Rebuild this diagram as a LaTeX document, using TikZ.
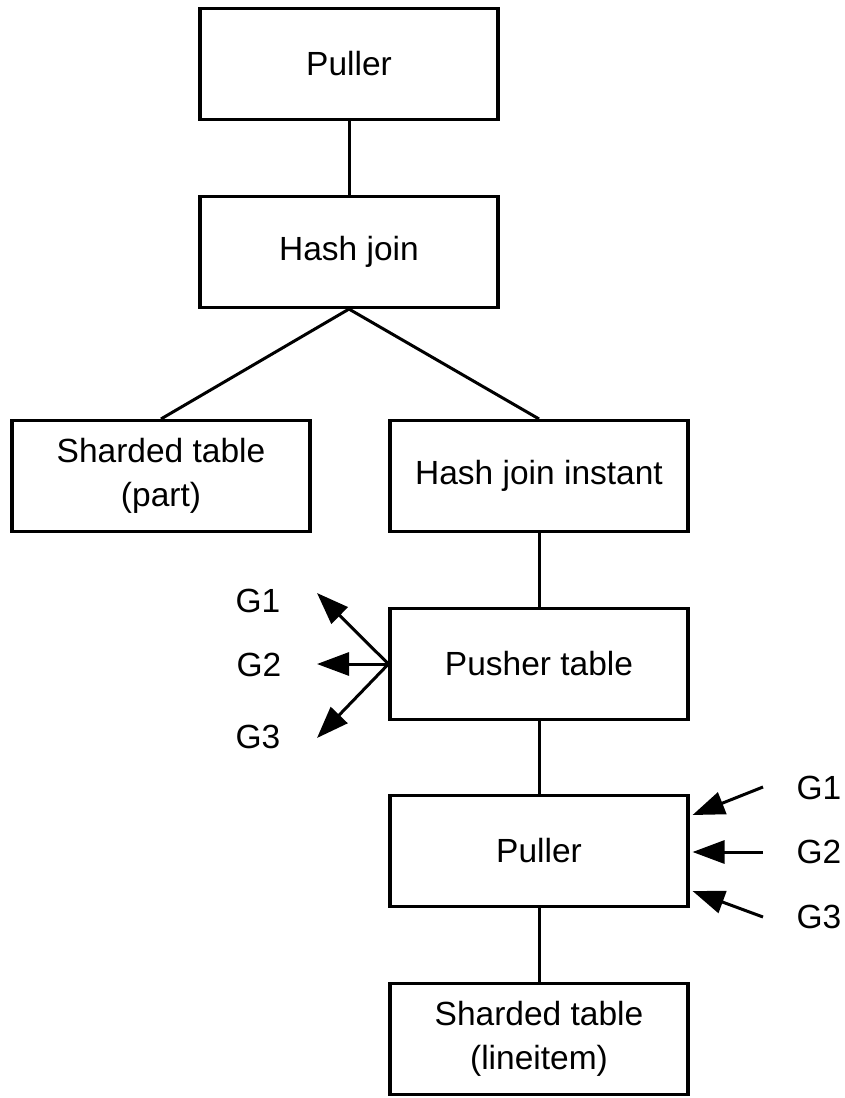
\documentclass[tikz,border=0pt]{standalone}
\usepackage{fontspec}
\setmainfont{Liberation Sans}
\usetikzlibrary{arrows.meta,calc}
\begin{document}
\begin{tikzpicture}[x=1pt,y=-1pt,
  box/.style={draw,line width=3.1pt,rectangle,minimum width=298pt,minimum height=111pt,inner sep=0pt,align=center,font=\fontsize{33.5}{44}\selectfont},
  conn/.style={line width=3pt},
  arr/.style={line width=3pt,-{Triangle[length=32pt,width=23pt]}},
  lab/.style={font=\fontsize{33.5}{40}\selectfont,inner sep=0pt}]
\useasboundingbox (0,0) rectangle (844,1098);
\node[box] (puller1) at (349,64) {Puller};
\node[box] (hj) at (349,252) {Hash join};
\node[box] (stp) at (161,476) {Sharded table\\(part)};
\node[box] (hji) at (539,476) {Hash join instant};
\node[box] (pusher) at (539,664) {Pusher table};
\node[box] (puller2) at (539,851) {Puller};
\node[box] (stl) at (539,1039) {Sharded table\\(lineitem)};
\draw[conn] (puller1.south) -- (hj.north);
\draw[conn] (hj.south) -- (stp.north);
\draw[conn] (hj.south) -- (hji.north);
\draw[conn] (hji.south) -- (pusher.north);
\draw[conn] (pusher.south) -- (puller2.north);
\draw[conn] (puller2.south) -- (stl.north);
% pusher outputs
\coordinate (o1) at (317,593);
\coordinate (o2) at (317,664);
\coordinate (o3) at (317,738);
\draw[arr] (pusher.west) -- (o1);
\draw[arr] (pusher.west) -- (o2);
\draw[arr] (pusher.west) -- (o3);
\node[lab] (lg1) at (258,601) {G1};
\node[lab] (lg2) at (259,665) {G2};
\node[lab] (lg3) at (258,737) {G3};
% puller inputs
\coordinate (i1) at (763,787);
\coordinate (i2) at (763,852);
\coordinate (i3) at (763,917);
\draw[arr] (i1) -- ($(puller2.east)+(3,-36)$);
\draw[arr] (i2) -- ($(puller2.east)+(3,1)$);
\draw[arr] (i3) -- ($(puller2.east)+(3,40)$);
\node[lab] (rg1) at (819,788) {G1};
\node[lab] (rg2) at (819,852) {G2};
\node[lab] (rg3) at (819,917) {G3};
\end{tikzpicture}
\end{document}
